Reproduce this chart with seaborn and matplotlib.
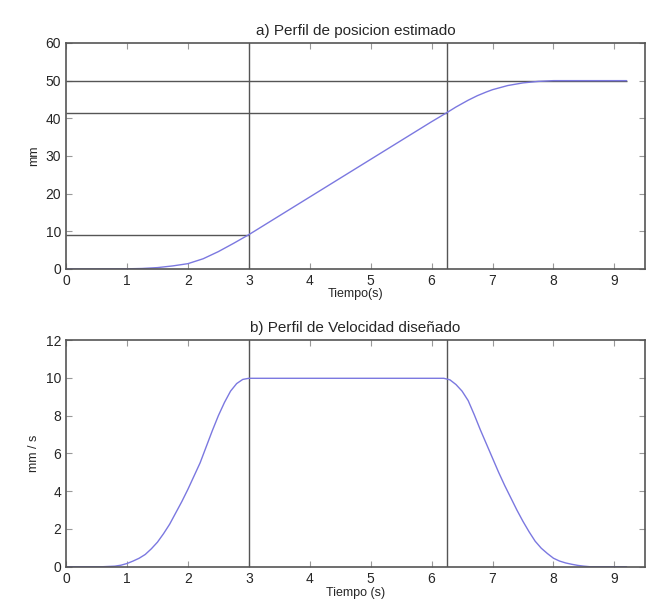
import pandas as pd
import matplotlib
matplotlib.use("Agg")
import matplotlib.pyplot as plt
import seaborn as sns

# Position profile (mm)
pos_t = [0, 0.5, 1.0, 1.25, 1.5, 1.75, 2.0, 2.25, 2.5, 2.75, 3.0, 3.5, 4.0, 4.5, 5.0,
         5.5, 6.0, 6.25, 6.4, 6.5, 6.6, 6.75, 6.9, 7.0, 7.25, 7.5, 7.75, 8.0, 8.5, 9.2]
pos_mm = [0, 0, 0.03, 0.12, 0.35, 0.8, 1.4, 2.7, 4.6, 6.8, 9.1, 14.1, 19.1, 24.1, 29.1,
          34.1, 39.1, 41.5, 43.0, 43.9, 44.8, 46.0, 47.0, 47.6, 48.7, 49.4, 49.8, 50.0,
          50.0, 50.0]

# Velocity profile (mm/s)
vel_t = [0, 0.6, 0.8, 0.9, 1.0, 1.1, 1.2, 1.3, 1.4, 1.5, 1.6, 1.7, 1.8, 1.9, 2.0,
         2.1, 2.2, 2.3, 2.4, 2.5, 2.6, 2.7, 2.8, 2.9, 3.0,
         6.2, 6.3, 6.4, 6.5, 6.6, 6.7, 6.8, 6.9, 7.0, 7.1, 7.2, 7.3, 7.4, 7.5,
         7.6, 7.7, 7.8, 7.9, 8.0, 8.1, 8.2, 8.3, 8.4, 8.5, 8.6, 9.2]
vel_mm_s = [0, 0, 0.03, 0.08, 0.17, 0.3, 0.45, 0.65, 0.95, 1.3, 1.75, 2.25, 2.85, 3.45, 4.1,
            4.8, 5.5, 6.35, 7.2, 8.0, 8.7, 9.3, 9.7, 9.92, 9.98,
            9.98, 9.9, 9.65, 9.3, 8.8, 8.05, 7.25, 6.5, 5.75, 5.0, 4.3, 3.65, 3.0, 2.4,
            1.85, 1.35, 0.98, 0.7, 0.45, 0.3, 0.2, 0.13, 0.07, 0.03, 0.0, 0.0]

# Reference marks
t_marks = [3.0, 6.25]
pos_marks = [9.0, 41.5, 50.0]

sns.set_style("ticks")
plt.rcParams['font.family'] = ['Liberation Sans', 'DejaVu Sans']

fig = plt.figure(figsize=(6.54, 6.14), dpi=100)
ax1 = fig.add_axes([0.101, 0.562, 0.885, 0.368])
ax2 = fig.add_axes([0.101, 0.077, 0.885, 0.369])

line_col = "#7b78e0"
ref_col = "#555555"

pos_df = pd.DataFrame({"t": pos_t, "mm": pos_mm})
vel_df = pd.DataFrame({"t": vel_t, "v": vel_mm_s})

# top panel: reference lines then curve
ax1.hlines(pos_marks[0], 0, t_marks[0], color=ref_col, lw=1)
ax1.hlines(pos_marks[1], 0, t_marks[1], color=ref_col, lw=1)
ax1.hlines(pos_marks[2], 0, 9.2, color=ref_col, lw=1)
for t in t_marks:
    ax1.axvline(t, color=ref_col, lw=1)
sns.lineplot(data=pos_df, x="t", y="mm", ax=ax1, color=line_col, lw=1)
ax1.set_xlim(0, 9.5)
ax1.set_ylim(0, 60)
ax1.set_xticks(range(0, 10))
ax1.set_yticks(range(0, 61, 10))
ax1.set_title("a) Perfil de posicion estimado", fontsize=11, pad=6)
ax1.set_xlabel("Tiempo(s)", fontsize=9, labelpad=0)
ax1.set_ylabel("mm", fontsize=9)

# bottom panel
for t in t_marks:
    ax2.axvline(t, color=ref_col, lw=1)
sns.lineplot(data=vel_df, x="t", y="v", ax=ax2, color=line_col, lw=1)
ax2.set_xlim(0, 9.5)
ax2.set_ylim(0, 12)
ax2.set_xticks(range(0, 10))
ax2.set_yticks(range(0, 13, 2))
ax2.set_title("b) Perfil de Velocidad diseñado", fontsize=11, pad=6)
ax2.set_xlabel("Tiempo (s)", fontsize=9, labelpad=1)
ax2.set_ylabel("mm / s", fontsize=9)

for ax in (ax1, ax2):
    ax.tick_params(direction="in", top=True, right=True, labelsize=10,
                   color="#999999", length=4)
    for s in ax.spines.values():
        s.set_visible(True)
        s.set_color("#555555")
        s.set_linewidth(1.2)

fig.savefig("out.png", dpi=100)
